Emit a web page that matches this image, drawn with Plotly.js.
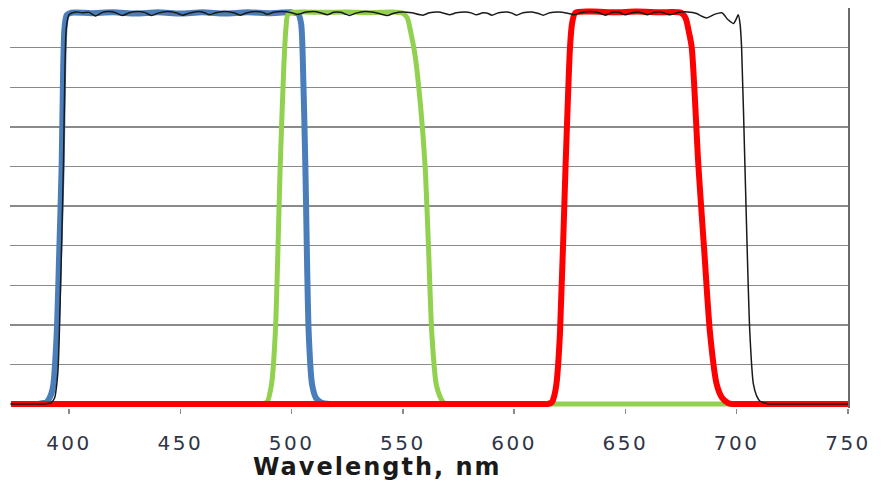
<!DOCTYPE html>
<html>
<head>
<meta charset="utf-8">
<script src="https://cdn.plot.ly/plotly-3.0.1.min.js"></script>
<style>
html,body{margin:0;padding:0;background:#fff;}
#chart{width:884px;height:482px;}
#chart .xtick text{letter-spacing:2.5px;}
#chart .annotation-text{letter-spacing:2px;}
</style>
</head>
<body>
<div id="chart"></div>
<script>
// Wavelength (nm) and transmission (%)
var blueX = [374,380,384,386,388,390,392,393,394.5,395.6,396.7,397.4,398,399,401,410,420,430,440,450,460,470,480,490,500,503,504.3,505,506.2,507.7,509.2,511,513,517,520,524];
var blueY = [0,0,0,0,0.2,0.5,2.5,5,18,38,60,85,95,98.2,98.8,98.7,98.9,98.6,98.9,98.6,98.9,98.6,98.9,98.7,98.9,98.5,96,88,60,18,5,1.5,0.5,0,0,0];

var greenX = [374,400,430,460,480,484,486,489,491,492.7,494.9,496.5,497.5,498.5,505,515,525,535,545,550,552,553.5,555.5,558,560,561.5,563,565,567,569,572,580,600,620,640,660,680,700,720,750];
var greenY = [0,0,0,0,0,0,0,0.5,5,18,60,85,95,98.5,99,98.9,99,98.8,99,98.7,97.5,94,88,75,60,40,18,5,1.5,0,0,0,0,0,0,0,0,0,0,0];

var redX = [374,400,430,460,490,520,550,580,600,610,613,615,617,618,619,620.6,623.1,625.1,626,627.5,635,645,655,665,675,677,678.5,679.8,682.8,685.5,688,691,693.5,696,698,701,710,725,750];
var redY = [0,0,0,0,0,0,0,0,0,0,0,0,0.5,2,5,18,60,90,96,98.8,99.1,98.9,99.1,98.9,98.8,97.5,94,90,60,38,18,5,1.5,0.3,0,0,0,0,0];

var blackX = [374,380,386,389,390,392,393.5,395,396,397.5,398.2,398.8,400,403,406,409,412,415,418,421,424,427,431,434,437,440,444,448,451,454,458,461,463,466,470,474,477,480,484,487,489,492,496,500,503,506,510,513,516,519,522,524,526,529,533,537,540,543,546,550,554,559,562,566,569,571,574,578,581,583,586,588,590,593,597,599,601,604,608,611,613,616,620,624,627,630,634,638,641,644,647,650,653,656,660,663,666,670,674,678,682,684,686.5,690,693.3,696,698.5,700,700.7,701.5,702.2,703.7,705.9,707.5,709,710.5,713,715,718,725,737,750];
var blackY = [0,0,0,0,0.1,0.3,1.5,8,25,60,85,95,98.3,99,98.8,98.9,98.0,98.9,99.1,98.8,98.1,98.8,99.1,98.9,98.1,98.7,99.1,98.8,98.2,98.7,99.1,98.8,98.3,98.8,99.1,98.8,98.2,98.8,99.1,98.9,98.4,98.9,99.1,98.8,98.4,98.9,99.1,98.8,98.3,98.9,98.9,98.5,98.1,98.7,99.1,98.9,98.5,98.1,98.7,99.0,98.8,98.2,98.8,99.0,98.6,98.3,98.8,99.0,98.7,98.3,98.8,98.7,98.2,98.8,99.0,98.7,98.2,98.8,99.0,98.6,98.2,98.8,99.0,98.7,98.3,98.8,99.1,98.8,98.2,98.9,98.9,98.3,98.8,99.0,98.3,98.9,99.0,98.3,98.9,99.0,98.6,98.0,97.5,98.4,98.8,97.1,96.1,97.5,98.3,96,90,60,18,5,2,0.7,0.2,0,0,0,0,0];

var tickVals = [400,450,500,550,600,650,700,750];
var tickText = ['400','450','500','550','600','650','700','750'];
var xTitle = 'Wavelength, nm';

var traces = [
  {x: blueX, y: blueY, mode: 'lines', line: {color: '#4a7ebb', width: 6, shape: 'spline', smoothing: 0.7}, hoverinfo: 'skip'},
  {x: greenX, y: greenY, mode: 'lines', line: {color: '#92d050', width: 5, shape: 'spline', smoothing: 0.7}, hoverinfo: 'skip'},
  {x: redX, y: redY, mode: 'lines', line: {color: '#ff0000', width: 6, shape: 'spline', smoothing: 0.7}, hoverinfo: 'skip'},
  {x: blackX, y: blackY, mode: 'lines', line: {color: '#1a1a1a', width: 1.5, shape: 'spline', smoothing: 0.7}, hoverinfo: 'skip'}
];

var layout = {
  width: 884, height: 482,
  margin: {l: 10, r: 36, t: 8, b: 74},
  paper_bgcolor: '#ffffff', plot_bgcolor: '#ffffff',
  showlegend: false,
  xaxis: {
    range: [373.5, 750],
    tickvals: tickVals, ticktext: tickText,
    ticks: 'outside', ticklen: 5, tickwidth: 1.5, tickcolor: '#8a8a8a',
    showgrid: false, zeroline: false,
    showline: false,
    ticklabelstandoff: 12,
    tickfont: {family: 'DejaVu Sans', size: 20, color: '#2f3547'}
  },
  yaxis: {
    range: [-1, 100], tick0: 0, dtick: 10,
    side: 'right',
    showticklabels: false, ticks: '',
    showgrid: true, gridcolor: '#8a8a8a', gridwidth: 1.4,
    zeroline: false,
    showline: true, linecolor: '#6a6a6a', linewidth: 2.2
  },
  annotations: [{
    text: '<b>' + xTitle + '</b>',
    xref: 'paper', yref: 'paper',
    x: 0.438, y: -0.148, xanchor: 'center', yanchor: 'middle',
    showarrow: false,
    font: {family: 'DejaVu Sans', size: 24, color: '#1a1a1a'}
  }]
};

Plotly.newPlot('chart', traces, layout, {staticPlot: true, displayModeBar: false});
</script>
</body>
</html>
